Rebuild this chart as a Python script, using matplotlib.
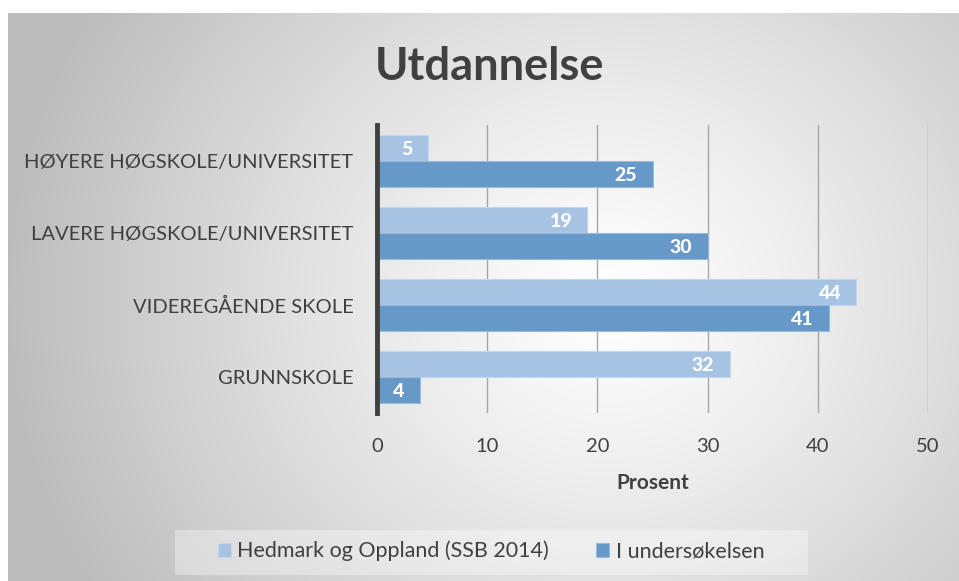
import numpy as np
import matplotlib.pyplot as plt
from matplotlib.patches import Rectangle

categories = ['HØYERE HØGSKOLE/UNIVERSITET', 'LAVERE HØGSKOLE/UNIVERSITET',
              'VIDEREGÅENDE SKOLE', 'GRUNNSKOLE']
hedmark = [4.6, 19.1, 43.5, 32.0]
undersokelsen = [25.0, 30.0, 41.0, 3.9]
series_names = ['Hedmark og Oppland (SSB 2014)', 'I undersøkelsen']

light = '#A7C3E3'
dark = '#6699C8'
text_col = '#404040'

plt.rcParams['font.family'] = ['Lato', 'DejaVu Sans']

fig = plt.figure(figsize=(9.59, 5.81), dpi=100)
fig.patch.set_facecolor('white')

# radial gradient background panel
bg = fig.add_axes([8 / 959, 0, 1 - 8 / 959, 1 - 13 / 581])
ny, nx = 300, 500
yy, xx = np.mgrid[0:ny, 0:nx]
cx, cy = 0.63 * nx, 0.5 * ny
r = np.sqrt(((xx - cx) / (0.75 * nx)) ** 2 + ((yy - cy) / (0.70 * nx)) ** 2)
shade = np.clip(1.0 - 0.32 * r ** 1.2, 0.74, 1.0)
bg.imshow(np.dstack([shade, shade, shade]), aspect='auto', extent=[0, 1, 0, 1],
          interpolation='bilinear')
bg.set_axis_off()

ax = fig.add_axes([377 / 959, 1 - 413 / 581, 551 / 959, 288 / 581])
ax.patch.set_alpha(0)

y = np.arange(len(categories))
h = 0.36
b1 = ax.barh(y - h / 2, hedmark, height=h, color=light, edgecolor='#C5D7EE',
             linewidth=0.8, label=series_names[0], zorder=3)
b2 = ax.barh(y + h / 2, undersokelsen, height=h, color=dark, edgecolor='#9BBBDC',
             linewidth=0.8, label=series_names[1], zorder=3)

for bars in (b1, b2):
    for rect, v in zip(bars, bars.datavalues):
        ax.annotate('%.0f' % v, (v, rect.get_y() + rect.get_height() / 2),
                    xytext=(-11, -1), textcoords='offset points', ha='right', va='center',
                    color='white', fontsize=14, fontweight='black', zorder=4)

ax.set_xlim(0, 50)
ax.set_ylim(-0.5, 3.5)
ax.invert_yaxis()
ax.set_yticks(y)
ax.set_yticklabels(categories)
ax.set_xticks(np.arange(0, 51, 10))
ax.tick_params(axis='y', length=0, pad=17, labelsize=14.5, labelcolor=text_col)
ax.tick_params(axis='x', length=0, pad=18, labelsize=14.5, labelcolor=text_col)
ax.grid(axis='x', color='#A6A6A6', linewidth=1, zorder=0)
for s in ['top', 'right', 'bottom']:
    ax.spines[s].set_visible(False)
ax.spines['left'].set_color('#404040')
ax.spines['left'].set_linewidth(3.5)
ax.spines['left'].set_zorder(5)

ax.set_xlabel('Prosent', fontsize=15, fontweight='bold', color=text_col, labelpad=13)

fig.text(0.5105, 1 - 67 / 581, 'Utdannelse', ha='center', va='center',
         fontsize=32.5, fontweight='bold', color=text_col)

# legend box
fig.patches.append(Rectangle((175 / 959, 1 - 575 / 581), 633 / 959, 45 / 581,
                             transform=fig.transFigure, facecolor='white',
                             alpha=0.35, edgecolor='none'))
leg = fig.legend(handles=[b1, b2], loc='center', bbox_to_anchor=(491 / 959, 1 - 551 / 581),
                 ncol=2, frameon=False, fontsize=15.5, handlelength=0.6, handleheight=0.6,
                 columnspacing=2.2, handletextpad=0.3)
for t in leg.get_texts():
    t.set_color(text_col)

fig.savefig('out.png', dpi=100)
